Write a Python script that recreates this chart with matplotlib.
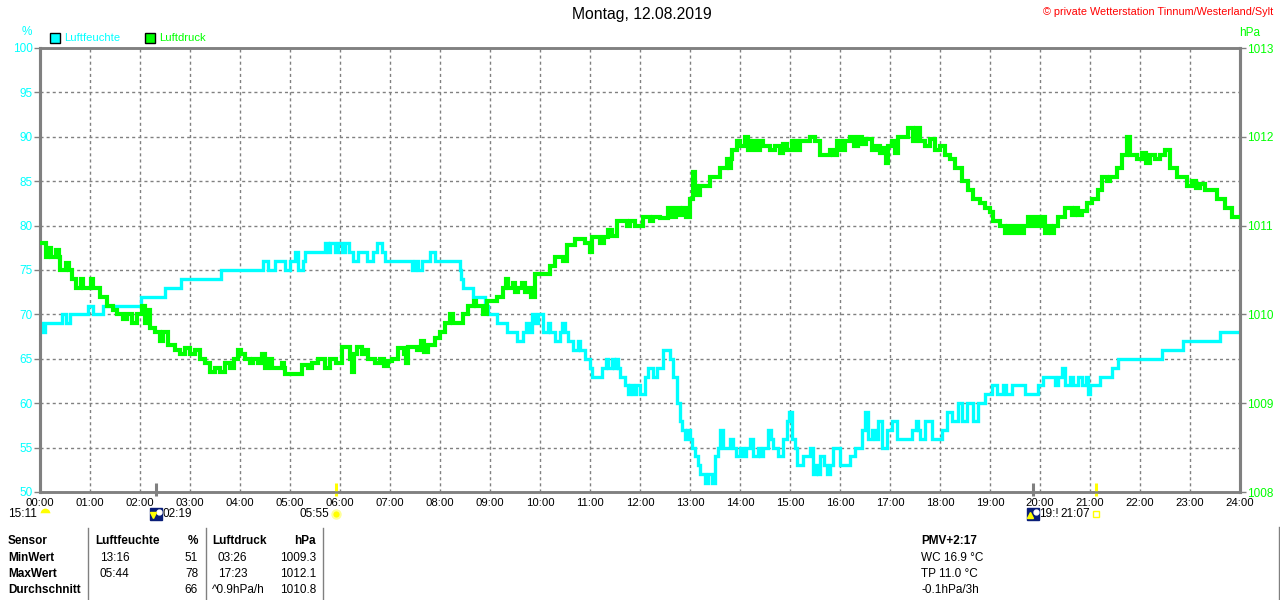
import matplotlib
matplotlib.use("Agg")
import matplotlib.pyplot as plt
import numpy as np

# ---------------- data ----------------
title = "Montag, 12.08.2019"
copyright_text = "© private Wetterstation Tinnum/Westerland/Sylt"

hour_ticks = list(range(0, 25))
hour_labels = ["%02d:00" % h for h in hour_ticks]
hum_ticks = [50, 55, 60, 65, 70, 75, 80, 85, 90, 95, 100]
pres_ticks = [1008, 1009, 1010, 1011, 1012, 1013]

# Luftfeuchte (%) : time in hours, value
hum_t = [0.00, 0.04, 0.10, 0.44, 0.52, 0.60, 0.96, 1.06, 1.26, 2.02, 2.50, 2.82, 3.62,
         4.46, 4.56, 4.70, 4.90, 5.00, 5.10, 5.16, 5.26, 5.30, 5.70, 5.76, 5.80, 5.90,
         5.96, 6.04, 6.10, 6.18, 6.26, 6.36, 6.54, 6.66, 6.74, 6.84, 6.90, 7.44, 7.50,
         7.56, 7.64, 7.80, 7.90, 8.40, 8.42, 8.46, 8.66, 8.90, 8.96, 9.14, 9.34, 9.54,
         9.66, 9.72, 9.78, 9.84, 9.90, 9.96, 10.06, 10.16, 10.20, 10.30, 10.40, 10.44,
         10.50, 10.56, 10.66, 10.76, 10.80, 10.90, 11.00, 11.04, 11.24, 11.32, 11.36,
         11.44, 11.48, 11.52, 11.56, 11.60, 11.70, 11.76, 11.80, 11.86, 11.92, 12.00,
         12.10, 12.16, 12.26, 12.34, 12.46, 12.60, 12.66, 12.74, 12.80, 12.84, 12.90,
         12.94, 13.00, 13.04, 13.10, 13.16, 13.20, 13.30, 13.36, 13.44, 13.50, 13.56,
         13.60, 13.66, 13.80, 13.86, 13.92, 14.00, 14.06, 14.12, 14.20, 14.26, 14.36,
         14.40, 14.46, 14.56, 14.62, 14.66, 14.76, 14.86, 14.94, 14.98, 15.04, 15.10,
         15.14, 15.26, 15.40, 15.46, 15.52, 15.56, 15.60, 15.68, 15.74, 15.80, 15.86,
         16.00, 16.10, 16.20, 16.30, 16.44, 16.50, 16.56, 16.64, 16.70, 16.76, 16.84,
         16.94, 17.04, 17.14, 17.44, 17.52, 17.56, 17.60, 17.70, 17.84, 18.04, 18.14,
         18.24, 18.36, 18.44, 18.54, 18.66, 18.76, 18.90, 19.04, 19.14, 19.26, 19.32,
         19.44, 19.70, 19.96, 20.06, 20.30, 20.36, 20.44, 20.50, 20.60, 20.66, 20.76,
         20.84, 20.92, 20.96, 21.00, 21.20, 21.44, 21.56, 22.44, 22.86, 23.60, 24.00]
hum_v = [69, 68, 69, 70, 69, 70, 71, 70, 71, 72, 73, 74, 75,
         76, 75, 76, 75, 76, 77, 75, 76, 77, 78, 77, 78, 77,
         78, 77, 78, 77, 76, 77, 76, 77, 78, 77, 76, 75, 76,
         75, 76, 77, 76, 75, 74, 73, 72, 71, 70, 69, 68, 67,
         68, 69, 68, 70, 69, 70, 68, 69, 68, 67, 68, 69,
         68, 67, 66, 67, 66, 65, 64, 63, 64, 65, 64,
         65, 64, 65, 64, 63, 62, 61, 62, 61, 62, 61,
         63, 64, 63, 64, 66, 65, 63, 60, 58, 57, 56,
         57, 56, 55, 54, 53, 52, 51, 52, 51, 54, 55,
         57, 55, 56, 55, 54, 55, 54, 55, 56, 54, 55,
         54, 55, 57, 56, 55, 54, 56, 58, 59, 56, 55,
         53, 54, 55, 52, 53, 52, 54, 53, 52, 53, 55,
         53, 53, 54, 55, 57, 59, 56, 57, 56, 58, 55,
         57, 58, 56, 57, 58, 57, 56, 58, 56, 57, 59,
         58, 60, 58, 60, 58, 60, 61, 62, 61, 62, 61,
         62, 61, 62, 63, 62, 63, 64, 62, 63, 62, 63,
         62, 63, 61, 62, 63, 64, 65, 66, 67, 68, 68]

# Luftdruck (hPa) : time in hours, value
pres_t = [0.00, 0.12, 0.16, 0.22, 0.32, 0.38, 0.40, 0.52, 0.58, 0.64, 0.72, 0.82, 0.86,
          1.02, 1.06, 1.20, 1.34, 1.46, 1.54, 1.66, 1.74, 1.84, 1.94, 2.04, 2.10, 2.16,
          2.20, 2.30, 2.40, 2.46, 2.56, 2.70, 2.80, 2.90, 3.00, 3.10, 3.20, 3.30, 3.40,
          3.50, 3.60, 3.70, 3.80, 3.88, 3.96, 4.02, 4.10, 4.20, 4.26, 4.36, 4.44, 4.50,
          4.56, 4.64, 4.84, 4.88, 4.90, 5.24, 5.36, 5.44, 5.56, 5.70, 5.80, 5.92, 6.04,
          6.20, 6.24, 6.28, 6.34, 6.44, 6.52, 6.56, 6.70, 6.80, 6.88, 6.96, 7.04, 7.16,
          7.28, 7.32, 7.36, 7.54, 7.62, 7.68, 7.76, 7.90, 8.00, 8.10, 8.20, 8.26, 8.46,
          8.56, 8.68, 8.72, 8.86, 8.94, 9.14, 9.26, 9.32, 9.36, 9.46, 9.50, 9.56, 9.64,
          9.70, 9.76, 9.82, 9.90, 10.20, 10.30, 10.46, 10.54, 10.70, 10.90, 11.00, 11.04,
          11.20, 11.28, 11.36, 11.44, 11.54, 11.74, 11.80, 11.90, 12.06, 12.20, 12.26,
          12.40, 12.56, 12.64, 12.72, 12.80, 12.86, 12.92, 13.00, 13.06, 13.10, 13.14,
          13.20, 13.40, 13.60, 13.74, 13.78, 13.82, 13.84, 13.94, 14.00, 14.10, 14.16,
          14.24, 14.32, 14.40, 14.46, 14.60, 14.70, 14.80, 14.86, 14.94, 15.04, 15.12,
          15.20, 15.40, 15.50, 15.60, 15.80, 15.86, 15.94, 16.02, 16.10, 16.20, 16.28,
          16.36, 16.44, 16.52, 16.64, 16.72, 16.80, 16.88, 16.92, 16.96, 17.04, 17.10,
          17.16, 17.36, 17.46, 17.52, 17.60, 17.70, 17.80, 17.90, 18.00, 18.10, 18.20,
          18.30, 18.44, 18.56, 18.66, 18.80, 18.90, 19.00, 19.06, 19.20, 19.30, 19.36,
          19.44, 19.52, 19.60, 19.68, 19.76, 19.84, 19.92, 20.00, 20.06, 20.10, 20.16,
          20.22, 20.28, 20.36, 20.50, 20.64, 20.70, 20.76, 20.84, 20.94, 21.04, 21.16,
          21.24, 21.34, 21.40, 21.54, 21.64, 21.74, 21.80, 21.94, 22.04, 22.12, 22.20,
          22.30, 22.40, 22.50, 22.60, 22.74, 22.94, 23.04, 23.12, 23.20, 23.30, 23.54,
          23.70, 23.84, 24.00]
pres_v = [1010.8, 1010.65, 1010.75, 1010.65, 1010.72, 1010.65, 1010.5, 1010.58, 1010.5, 1010.4, 1010.3, 1010.4, 1010.3,
          1010.4, 1010.3, 1010.2, 1010.1, 1010.05, 1010.0, 1009.95, 1010.0, 1009.9, 1010.0, 1010.1, 1009.9, 1010.05,
          1009.85, 1009.8, 1009.7, 1009.8, 1009.65, 1009.6, 1009.55, 1009.62, 1009.55, 1009.6, 1009.5, 1009.45, 1009.35,
          1009.4, 1009.35, 1009.45, 1009.4, 1009.5, 1009.6, 1009.55, 1009.5, 1009.45, 1009.5, 1009.45, 1009.55, 1009.4,
          1009.5, 1009.4, 1009.45, 1009.4, 1009.33, 1009.43, 1009.4, 1009.45, 1009.5, 1009.4, 1009.5, 1009.45, 1009.63,
          1009.5, 1009.35, 1009.55, 1009.63, 1009.55, 1009.6, 1009.5, 1009.45, 1009.5, 1009.42, 1009.47, 1009.5, 1009.62,
          1009.55, 1009.45, 1009.63, 1009.6, 1009.7, 1009.58, 1009.65, 1009.73, 1009.8, 1009.9, 1010.0, 1009.9, 1010.0,
          1010.1, 1010.15, 1010.1, 1010.0, 1010.15, 1010.2, 1010.3, 1010.4, 1010.3, 1010.35, 1010.25, 1010.3, 1010.35,
          1010.25, 1010.3, 1010.2, 1010.45, 1010.55, 1010.65, 1010.6, 1010.78, 1010.85, 1010.8, 1010.7, 1010.87,
          1010.8, 1010.87, 1010.95, 1010.88, 1011.05, 1011.0, 1011.05, 1011.0, 1011.1, 1011.05, 1011.1,
          1011.08, 1011.2, 1011.1, 1011.2, 1011.12, 1011.2, 1011.1, 1011.3, 1011.6, 1011.45, 1011.35,
          1011.45, 1011.55, 1011.65, 1011.75, 1011.65, 1011.75, 1011.85, 1011.95, 1011.9, 1012.0, 1011.85,
          1011.95, 1011.85, 1011.95, 1011.9, 1011.85, 1011.9, 1011.82, 1011.92, 1011.85, 1011.95, 1011.85,
          1011.95, 1012.0, 1011.95, 1011.8, 1011.85, 1011.8, 1011.95, 1011.85, 1011.95, 1012.0, 1011.9,
          1012.0, 1011.92, 1011.97, 1011.85, 1011.9, 1011.82, 1011.87, 1011.7, 1011.9, 1011.95, 1011.82,
          1012.0, 1012.1, 1011.95, 1012.1, 1011.95, 1011.9, 1011.97, 1011.85, 1011.9, 1011.8, 1011.75,
          1011.65, 1011.5, 1011.4, 1011.3, 1011.25, 1011.2, 1011.15, 1011.05, 1011.0, 1010.92, 1011.0,
          1010.92, 1011.0, 1010.92, 1011.0, 1011.1, 1011.0, 1011.1, 1011.0, 1011.1, 1010.92, 1011.0,
          1010.92, 1011.0, 1011.1, 1011.2, 1011.12, 1011.2, 1011.12, 1011.17, 1011.25, 1011.3, 1011.4,
          1011.55, 1011.5, 1011.55, 1011.65, 1011.8, 1012.0, 1011.8, 1011.75, 1011.82, 1011.7, 1011.8,
          1011.75, 1011.8, 1011.85, 1011.65, 1011.55, 1011.45, 1011.5, 1011.42, 1011.47, 1011.4, 1011.3,
          1011.2, 1011.1, 1011.1]

# astronomical events (hours) and labels
moonrise_t, moonrise_lbl = 2 + 19 / 60, "02:19"
sunrise_t, sunrise_lbl = 5 + 55 / 60, "05:55"
moonset_t, moonset_lbl = 19 + 51 / 60, "19:!"
sunset_t, sunset_lbl = 21 + 7 / 60, "21:07"
daylength_lbl = "15:11"

# table
table_header = ["Sensor", "Luftfeuchte", "%", "Luftdruck", "hPa"]
row_names = ["MinWert", "MaxWert", "Durchschnitt"]
hum_times = ["13:16", "05:44", ""]
hum_vals = ["51", "78", "66"]
pres_times = ["03:26", "17:23", "^0.9hPa/h"]
pres_vals = ["1009.3", "1012.1", "1010.8"]
extra_title = "PMV+2:17"
extra_lines = ["WC 16.9 °C", "TP 11.0 °C", "-0.1hPa/3h"]

# ---------------- style ----------------
CYAN = "#00FFFF"
GREEN = "#00FF00"
GRAY = "#808080"
FONT = "Liberation Sans"
plt.rcParams["font.family"] = [FONT, "DejaVu Sans"]

W, H = 1280, 600
fig = plt.figure(figsize=(W / 100, H / 100), dpi=100)
fig.patch.set_facecolor("white")

def fx(px):
    return px / W

def fy(py):
    return 1 - py / H

ax = fig.add_axes([fx(40), fy(492), fx(1200), 444 / H])
ax.set_xlim(0, 24)
ax.set_ylim(50, 100)
ax2 = ax.twinx()
ax2.set_ylim(1008, 1013)

ax.set_xticks(hour_ticks)
ax.set_xticklabels(hour_labels, fontsize=8.2, color="black")
ax.tick_params(axis="x", length=0, pad=4.5)
ax.set_yticks(hum_ticks)
ax.set_yticklabels([str(v) for v in hum_ticks], fontsize=8.5, color=CYAN)
ax.tick_params(axis="y", length=4, width=1, color=GRAY, pad=1)
ax2.set_yticks(pres_ticks)
ax2.set_yticklabels([str(v) for v in pres_ticks], fontsize=8.5, color=GREEN)
ax2.tick_params(axis="y", length=4, width=1, color=GRAY, pad=1)

ax.grid(True, color=GRAY, linestyle=(0, (2.2, 2.2)), linewidth=1)
ax.set_axisbelow(True)

for a in (ax, ax2):
    for s in ("left", "right"):
        a.spines[s].set_color(GRAY)
        a.spines[s].set_linewidth(2.2)
    for s in ("top", "bottom"):
        a.spines[s].set_color(GRAY)
        a.spines[s].set_linewidth(1.8)

ax.plot(hum_t, hum_v, drawstyle="steps-post", color=CYAN, linewidth=2.4,
        solid_joinstyle="miter", zorder=3)
ax2.plot(pres_t, pres_v, drawstyle="steps-post", color=GREEN, linewidth=3.0,
         solid_joinstyle="miter", zorder=3)

# event ticks on the time axis
for t, col, lw in [(moonrise_t, GRAY, 2.2), (moonset_t, GRAY, 2.2),
                   (sunrise_t, "#FFFF00", 2.2), (sunset_t, "#FFFF00", 2.2)]:
    ax.plot([t, t], [51.0, 49.5], color=col, linewidth=lw, clip_on=False,
            solid_capstyle="butt", zorder=5)

yrow = 100 - (514 - 48) / 8.88
# icons
ax.plot([0.09], [yrow + 0.15], marker="o", markersize=7, fillstyle="top",
        markerfacecolor="#FFFF00", markerfacecoloralt="white",
        markeredgecolor="none", clip_on=False, zorder=6)
for t, up in [(moonrise_t, False), (moonset_t, True)]:
    ax.plot([t], [yrow], marker="s", markersize=8, color="#0A1E78",
            clip_on=False, zorder=6)
    ax.plot([t + 0.06], [yrow + 0.25], marker="o", markersize=3.5,
            color="white", clip_on=False, zorder=7)
    ax.plot([t - 0.05], [yrow - 0.1], marker="^" if up else "v", markersize=4,
            color="#FFFF00", clip_on=False, zorder=7)
ax.plot([sunrise_t], [yrow], marker="o", markersize=6, markerfacecolor="#FFFF00",
        markeredgecolor="#FFFF99", markeredgewidth=1.5, clip_on=False, zorder=6)
ax.plot([sunset_t], [yrow], marker="s", markersize=5, markerfacecolor="none",
        markeredgecolor="#FFFF00", markeredgewidth=1, clip_on=False, zorder=6)

kw = dict(textcoords="offset points", fontsize=8.5, va="center",
          annotation_clip=False, color="black")
ax.annotate(daylength_lbl, xy=(0, yrow), xytext=(-2, 0), ha="right", **kw)
ax.annotate(moonrise_lbl, xy=(moonrise_t, yrow), xytext=(5, 0), ha="left", **kw)
ax.annotate(sunrise_lbl, xy=(sunrise_t, yrow), xytext=(-5, 0), ha="right", **kw)
ax.annotate(moonset_lbl, xy=(moonset_t, yrow), xytext=(4.5, 0), ha="left", **kw)
ax.annotate(sunset_lbl, xy=(sunset_t, yrow), xytext=(-4.5, 0), ha="right", **kw)

# title & header texts
fig.text(fx(642), fy(15), title, ha="center", va="center", fontsize=11.3)
fig.text(fx(1273), fy(12), copyright_text, ha="right", va="center",
         fontsize=7.8, color="#FF0000")
fig.text(fx(27), fy(32), "%", ha="center", va="center", fontsize=8.5, color=CYAN)
fig.text(fx(1250), fy(33), "hPa", ha="center", va="center", fontsize=8.5, color=GREEN)

# legend
for xs, col, lbl in [(50, CYAN, "Luftfeuchte"), (145, GREEN, "Luftdruck")]:
    fig.patches.append(plt.Rectangle((fx(xs), fy(43)), fx(10), 10 / H,
                                     transform=fig.transFigure, facecolor=col,
                                     edgecolor="black", linewidth=1))
    fig.text(fx(xs + 14), fy(38), lbl, ha="left", va="center", fontsize=8.1, color=col)

# table
rows_y = [541, 558, 574, 590]
for xl in (88, 205.5, 323):
    fig.add_artist(plt.Line2D([fx(xl), fx(xl)], [fy(528), fy(600)],
                              color=GRAY, linewidth=1))
fig.add_artist(plt.Line2D([fx(1279), fx(1279)], [fy(527), fy(600)],
                          color=GRAY, linewidth=1))
tk = dict(va="center", fontsize=8.5)
fig.text(fx(8), fy(rows_y[0]), table_header[0], ha="left", weight="bold", **tk)
fig.text(fx(95), fy(rows_y[0]), table_header[1], ha="left", weight="bold", **tk)
fig.text(fx(198), fy(rows_y[0]), table_header[2], ha="right", weight="bold", **tk)
fig.text(fx(212), fy(rows_y[0]), table_header[3], ha="left", weight="bold", **tk)
fig.text(fx(316), fy(rows_y[0]), table_header[4], ha="right", weight="bold", **tk)
for i, name in enumerate(row_names):
    y = fy(rows_y[i + 1])
    fig.text(fx(8), y, name, ha="left", weight="bold", **tk)
    fig.text(fx(100), y, hum_times[i], ha="left", **tk)
    fig.text(fx(198), y, hum_vals[i], ha="right", **tk)
    fig.text(fx(218) if i < 2 else fx(212), y, pres_times[i], ha="left", **tk)
    fig.text(fx(316), y, pres_vals[i], ha="right", **tk)
fig.text(fx(921), fy(rows_y[0]), extra_title, ha="left", weight="bold", **tk)
for i, line in enumerate(extra_lines):
    fig.text(fx(921), fy(rows_y[i + 1]), line, ha="left", **tk)

fig.savefig("out.png", dpi=100, facecolor="white")
